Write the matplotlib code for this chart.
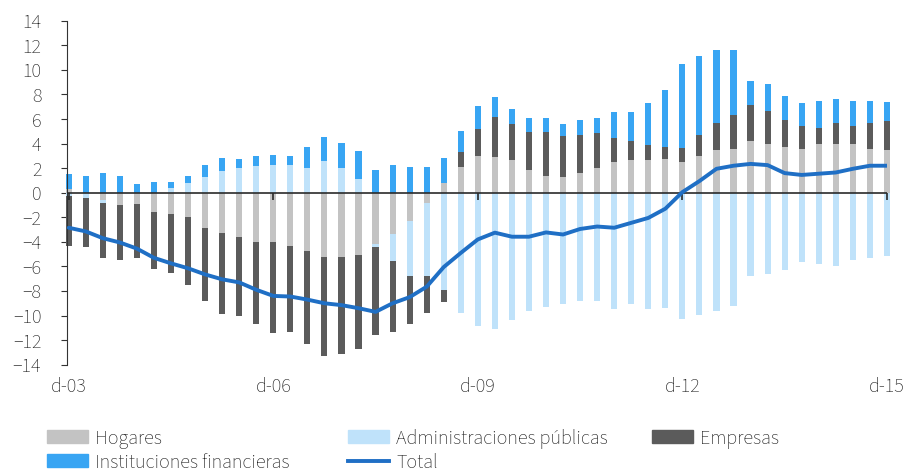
import numpy as np
import matplotlib
matplotlib.use('Agg')
import matplotlib.pyplot as plt
from matplotlib.patches import Patch
from matplotlib.lines import Line2D

plt.rcParams['font.family'] = ['Source Sans 3', 'DejaVu Sans']

# quarterly, d-03 .. d-15
hogares = [0.3, 0.0, -0.55, -1.0, -0.9, -1.6, -1.75, -1.97, -2.83, -3.3,
           -3.64, -4.0, -4.04, -4.37, -4.74, -5.23, -5.23, -5.07, -4.18, -3.37,
           -2.29, -0.81, 0.81, 2.13, 2.99, 2.88, 2.64, 1.89, 1.37, 1.27,
           1.62, 2.02, 2.48, 2.64, 2.64, 2.75, 2.5, 2.99, 3.48, 3.58,
           4.18, 3.96, 3.72, 3.58, 3.96, 3.96, 3.96, 3.58, 3.48]
admin = [-0.3, -0.4, -0.25, 0.0, 0.0, 0.0, 0.35, 0.8, 1.27, 1.75,
         2.0, 2.16, 2.24, 2.24, 2.02, 2.61, 2.02, 1.16, -0.27, -2.21,
         -4.5, -5.98, -7.95, -9.76, -10.86, -11.08, -10.38, -9.65, -9.3, -9.03,
         -8.81, -8.81, -9.43, -9.03, -9.43, -9.38, -10.3, -9.97, -9.62, -9.25,
         -6.74, -6.6, -6.25, -5.66, -5.8, -5.93, -5.44, -5.31, -5.18]
empresas = [-4.0, -4.05, -4.5, -4.47, -4.44, -4.6, -4.8, -5.53, -5.97, -6.6,
            -6.4, -6.7, -7.42, -6.95, -7.58, -8.1, -7.9, -7.68, -7.15, -5.74,
            -3.9, -2.97, -0.95, 1.16, 2.21, 3.32, 2.94, 3.07, 3.59, 3.33,
            3.1, 2.83, 1.97, 1.59, 1.24, 0.97, 1.14, 1.73, 2.23, 2.75,
            2.96, 2.72, 2.21, 1.89, 1.35, 1.75, 1.51, 2.13, 2.37]
financieras = [1.2, 1.35, 1.6, 1.35, 0.75, 0.89, 0.54, 0.57, 0.97, 1.08,
               0.72, 0.8, 0.86, 0.72, 1.67, 1.89, 2.02, 2.26, 1.86, 2.24,
               2.13, 2.13, 2.02, 1.7, 1.86, 1.59, 1.21, 1.1, 1.1, 1.0,
               1.24, 1.21, 2.1, 2.32, 3.4, 4.64, 6.86, 6.41, 5.89, 5.27,
               1.94, 2.19, 1.97, 1.81, 2.18, 1.94, 2.02, 1.78, 1.54]
total = [-2.85, -3.15, -3.7, -4.05, -4.55, -5.3, -5.75, -6.15, -6.65, -7.05,
         -7.3, -7.9, -8.4, -8.45, -8.7, -9.0, -9.15, -9.4, -9.7, -9.0,
         -8.5, -7.65, -6.05, -4.9, -3.8, -3.25, -3.58, -3.58, -3.23, -3.4,
         -2.95, -2.75, -2.85, -2.45, -2.05, -1.3, 0.05, 0.95, 1.95, 2.2,
         2.35, 2.25, 1.6, 1.45, 1.55, 1.65, 1.95, 2.2, 2.2]
tick_labels = ["d-03", "d-06", "d-09", "d-12", "d-15"]

series = [("Hogares", hogares, "#c3c3c3"),
          ("Administraciones públicas", admin, "#bfe2fa"),
          ("Empresas", empresas, "#5b5b5b"),
          ("Instituciones financieras", financieras, "#38a5f3")]
line_color = "#1f6fc5"
txt = "#222222"
fs = 14.5

x = np.arange(len(total))
xt = np.arange(0, 49, 12)

fig = plt.figure(figsize=(9.12, 4.73), dpi=100)
ax = fig.add_axes([0.0735, 0.229, 0.899, 0.727])

pos = np.zeros(len(x))
neg = np.zeros(len(x))
for name, vals, col in series:
    v = np.array(vals)
    bottom = np.where(v >= 0, pos, neg)
    ax.bar(x, v, 0.36, bottom=bottom, color=col, clip_on=False, zorder=2)
    pos = pos + np.clip(v, 0, None)
    neg = neg + np.clip(v, None, 0)

ax.plot(x, total, color=line_color, lw=2.8, zorder=4, solid_capstyle='round')

# zero line with small date ticks
ax.axhline(0, color="#2a2a2a", lw=1.2, zorder=3)
ax.plot(xt, np.zeros(len(xt)), ls='none', marker=3, ms=5, mew=1.2, color="#2a2a2a", zorder=3, clip_on=False)

ax.set_xlim(-0.1, 48.0)
ax.set_ylim(-14, 14)
ax.set_yticks(np.arange(-14, 15, 2))
ax.set_xticks(xt)
ax.set_xticklabels(tick_labels)

for s in ["top", "right", "bottom"]:
    ax.spines[s].set_visible(False)
ax.spines["left"].set_color("#333333")
ax.tick_params(axis='y', length=4.5, color="#333333", labelsize=fs, labelcolor=txt, pad=14)
ax.tick_params(axis='x', length=0, labelsize=fs, labelcolor=txt, pad=9)

def legend(handles, labels, xpos):
    fig.legend(handles, labels, loc="upper left", bbox_to_anchor=(xpos, 0.094),
               frameon=False, fontsize=fs, handlelength=2.05, handleheight=0.6,
               handletextpad=0.35, labelspacing=0.2, borderaxespad=0, borderpad=0,
               labelcolor=txt)

p = [Patch(color=c) for _, _, c in series]
legend([p[0], p[3]], ["Hogares", "Instituciones financieras"], 0.0515)
legend([p[1], Line2D([], [], color=line_color, lw=2.8)],
       ["Administraciones públicas", "Total"], 0.3816)
legend([p[2]], ["Empresas"], 0.715)

fig.savefig("out.png", dpi=100)
